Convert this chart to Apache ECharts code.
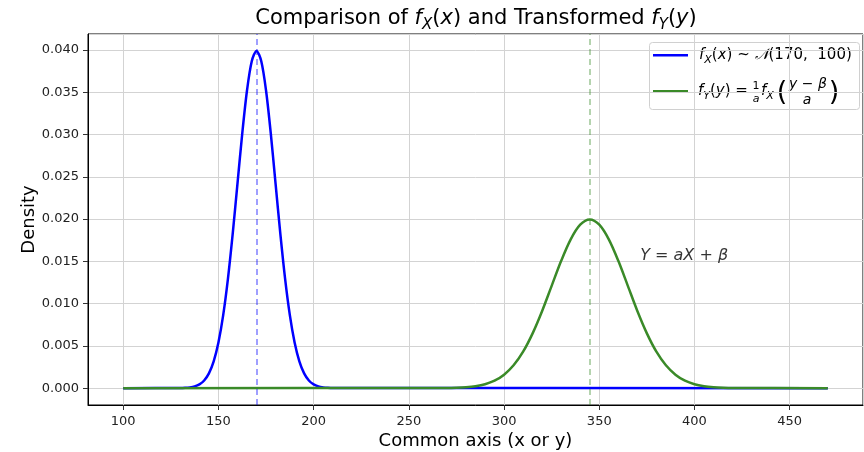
<!DOCTYPE html>
<html>
<head>
<meta charset="utf-8">
<script src="https://cdn.jsdelivr.net/npm/echarts@6/dist/echarts.min.js"></script>
<style>
html, body { margin: 0; padding: 0; background: #fff; }
#chart { width: 864px; height: 452px; }
</style>
</head>
<body>
<div id="chart"></div>
<script>
// f_X(x) ~ N(170, 100)
const xBlue = [100, 130, 132.5, 135, 137.5, 140, 142.5, 145, 147.5, 150, 152.5, 155, 157.5, 160, 162.5, 165, 167.5,
  170, 172.5, 175, 177.5, 180, 182.5, 185, 187.5, 190, 192.5, 195, 197.5, 200, 202.5, 205, 207.5, 210, 470]
const yBlue = [0, 0.0000134, 0.0000353, 0.0000873, 0.000203, 0.000443, 0.000909, 0.00175, 0.00317, 0.0054, 0.00863,
  0.01295, 0.01827, 0.0242, 0.03011, 0.03521, 0.03867, 0.03989, 0.03867, 0.03521, 0.03011, 0.0242, 0.01827, 0.01295,
  0.00863, 0.0054, 0.00317, 0.00175, 0.000909, 0.000443, 0.000203, 0.0000873, 0.0000353, 0.0000134, 0]

// f_Y(y), the transformed curve (green)
const xGreen = [100, 270, 275, 280, 285, 290, 295, 300, 305, 310, 315, 320, 325, 330, 335, 340, 345,
  350, 355, 360, 365, 370, 375, 380, 385, 390, 395, 400, 405, 410, 415, 420, 470]
const yGreen = [0, 0.0000177, 0.0000436, 0.000101, 0.000222, 0.000455, 0.000876, 0.00159, 0.0027, 0.00431, 0.00648,
  0.00913, 0.0121, 0.01506, 0.0176, 0.01933, 0.01995, 0.01933, 0.0176, 0.01506, 0.0121, 0.00913, 0.00648, 0.00431,
  0.0027, 0.00159, 0.000876, 0.000455, 0.000222, 0.000101, 0.0000436, 0.0000177, 0]

const meanX = 170
const meanY = 345
const notePos = [371.5, 0.0156]

const xRange = [81.5, 488.5]
const yRange = [-0.001995, 0.04189]

const FONT = 'DejaVu Sans'
const BLUE = '#0000ff'
const GREEN = '#3a8a28'

const chart = echarts.init(document.getElementById('chart'))

const zip = (xs, ys) => xs.map((x, i) => [x, ys[i]])

const mathRich = (size) => ({
  n: { fontFamily: FONT, fontSize: size, color: '#000', lineHeight: size + 6 },
  i: { fontFamily: FONT, fontSize: size, fontStyle: 'italic', color: '#000', lineHeight: size + 6 },
  s: { fontFamily: FONT, fontSize: Math.round(size * 0.7), fontStyle: 'italic', color: '#000',
       verticalAlign: 'bottom', lineHeight: Math.round(size * 0.7) + 2 }
})

const txt = (x, y, text, size, italic) => ({
  type: 'text', x: x, y: y,
  style: { text: text, align: 'center', verticalAlign: 'middle', fontFamily: FONT,
           fontSize: size, fontStyle: italic ? 'italic' : 'normal', fill: '#000' }
})

const bar = (x1, x2, y) => ({
  type: 'rect', shape: { x: x1, y: y, width: x2 - x1, height: 1 }, style: { fill: '#000' }
})

const option = {
  animation: false,
  backgroundColor: '#fff',
  grid: {
    left: 88, right: 1, top: 34, bottom: 47,
    outerBoundsMode: 'none',
    containLabel: false,
    show: true, borderColor: '#000', borderWidth: 1, backgroundColor: 'transparent'
  },
  xAxis: {
    type: 'value',
    min: xRange[0], max: xRange[1],
    splitNumber: 8,
    name: 'Common axis (x or y)',
    nameLocation: 'middle',
    nameGap: 27,
    nameMoveOverlap: false,
    nameTextStyle: { fontFamily: FONT, fontSize: 18, color: '#000' },
    axisLine: { onZero: false, lineStyle: { color: '#000' } },
    axisTick: { show: true, length: 5, lineStyle: { color: '#333' } },
    axisLabel: { fontFamily: FONT, fontSize: 13, color: '#222', margin: 10, showMinLabel: false, showMaxLabel: false },
    splitLine: { show: true, lineStyle: { color: '#d3d3d3', width: 1 } }
  },
  yAxis: {
    type: 'value',
    min: yRange[0], max: yRange[1],
    splitNumber: 9,
    name: 'Density',
    nameLocation: 'middle',
    nameGap: 50,
    nameMoveOverlap: false,
    nameTextStyle: { fontFamily: FONT, fontSize: 18, color: '#000' },
    axisLine: { show: true, onZero: false, lineStyle: { color: '#000' } },
    axisTick: { show: true, length: 5, lineStyle: { color: '#333' } },
    axisLabel: {
      fontFamily: FONT, fontSize: 13, color: '#222', margin: 9,
      showMinLabel: false, showMaxLabel: false,
      formatter: v => v.toFixed(3)
    },
    splitLine: { show: true, lineStyle: { color: '#d3d3d3', width: 1 } }
  },
  series: [
    {
      name: 'fX',
      type: 'line',
      data: zip(xBlue, yBlue),
      showSymbol: false,
      smooth: 0.3,
      lineStyle: { color: BLUE, width: 2.5 },
      markLine: {
        silent: true, symbol: 'none', label: { show: false },
        lineStyle: { color: 'rgba(0,0,255,0.5)', type: [6, 4], width: 1.5 },
        data: [{ xAxis: meanX }]
      }
    },
    {
      name: 'fY',
      type: 'line',
      data: zip(xGreen, yGreen),
      showSymbol: false,
      smooth: 0.3,
      lineStyle: { color: GREEN, width: 2.5 },
      markLine: {
        silent: true, symbol: 'none', label: { show: false },
        lineStyle: { color: 'rgba(58,138,40,0.5)', type: [6, 4], width: 1.5 },
        data: [{ xAxis: meanY }]
      }
    },
    {
      name: 'note',
      type: 'scatter',
      data: [notePos],
      symbolSize: 0,
      silent: true,
      label: {
        show: true, position: 'right', distance: 0,
        formatter: '{i|Y}{n| = }{i|aX}{n| + }{i|β}',
        rich: mathRich(16)
      }
    }
  ],
  graphic: [
    // title
    {
      type: 'text', x: 476, y: 19, silent: true,
      style: {
        text: '{n|Comparison of }{i|f}{s|X}{n|(}{i|x}{n|) and Transformed }{i|f}{s|Y}{n|(}{i|y}{n|)}',
        align: 'center', verticalAlign: 'middle',
        rich: mathRich(21)
      }
    },
    // legend
    {
      type: 'group', silent: true,
      children: [
        { type: 'rect', shape: { x: 649.5, y: 42.5, width: 210, height: 67, r: 3 },
          style: { fill: 'rgba(255,255,255,0.8)', stroke: '#d0d0d0', lineWidth: 1 } },
        { type: 'rect', shape: { x: 653, y: 54, width: 35, height: 2.5 }, style: { fill: BLUE } },
        { type: 'rect', shape: { x: 653, y: 90, width: 35, height: 2.5 }, style: { fill: GREEN } },
        { type: 'text', x: 699, y: 55,
          style: { text: '{i|f}{s|X}{n|(}{i|x}{n|) ~ }{i|𝒩}{n|(170,  100)}', verticalAlign: 'middle', rich: mathRich(15) } },
        { type: 'text', x: 698, y: 91,
          style: { text: '{i|f}{s|Y}{n|(}{i|y}{n|) =}', verticalAlign: 'middle', rich: mathRich(15) } },
        txt(756, 86, '1', 11, false),
        bar(752, 760, 92),
        txt(756, 99, 'a', 11, true),
        { type: 'text', x: 761, y: 91,
          style: { text: '{i|f}{s|X}', verticalAlign: 'middle', rich: mathRich(15) } },
        txt(782, 93, '(', 27, false),
        txt(808, 84.5, 'y − β', 14, true),
        bar(788, 828, 92),
        txt(807, 100.5, 'a', 14, true),
        txt(834, 93, ')', 27, false)
      ]
    }
  ]
}

chart.setOption(option)
</script>
</body>
</html>
